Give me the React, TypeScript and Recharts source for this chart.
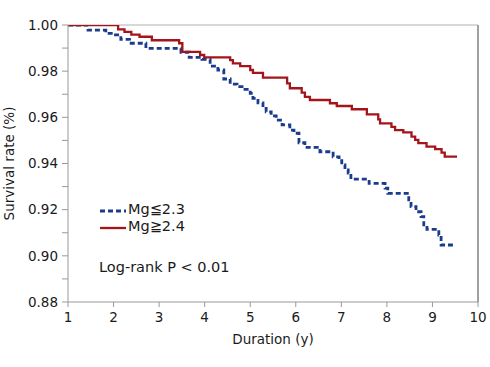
import { Legend, Line, LineChart, ReferenceLine, XAxis, YAxis } from "recharts";

// Kaplan-Meier steps: time (years) and survival after each event
const lowMgTimes = [
  1.0, 1.44, 1.83, 1.99, 2.16, 2.35, 2.71, 3.48, 3.66, 3.94, 4.12, 4.29, 4.42, 4.56, 4.71, 4.82, 5.0,
  5.06, 5.17, 5.28, 5.35, 5.46, 5.57, 5.7, 5.87, 5.96, 6.07, 6.2, 6.53, 6.82, 6.95, 7.01, 7.08, 7.15,
  7.21, 7.61, 7.96, 8.02, 8.48, 8.53, 8.64, 8.75, 8.81, 8.88, 9.14, 9.19, 9.45,
];
const lowMgSurvival = [
  1.0, 0.9978, 0.9964, 0.9957, 0.9938, 0.9921, 0.9899, 0.9882, 0.986, 0.9851, 0.9822, 0.9805, 0.9766,
  0.9744, 0.9733, 0.9721, 0.9704, 0.9682, 0.9663, 0.9639, 0.9624, 0.9606, 0.9588, 0.9567, 0.9545, 0.9531,
  0.949, 0.947, 0.9451, 0.9429, 0.9412, 0.9394, 0.9372, 0.9358, 0.9332, 0.9314, 0.9293, 0.9271, 0.9242,
  0.9213, 0.9191, 0.917, 0.9134, 0.9115, 0.909, 0.9047, 0.9047,
];

const highMgTimes = [
  1.0, 2.1, 2.24, 2.39, 2.57, 2.84, 3.44, 3.51, 3.9, 3.99, 4.56, 4.62, 4.78, 5.0, 5.06, 5.28, 5.81, 5.87,
  6.13, 6.2, 6.31, 6.75, 6.9, 7.23, 7.56, 7.81, 7.85, 8.1, 8.18, 8.36, 8.54, 8.62, 8.69, 8.87, 9.06, 9.2,
  9.27, 9.54,
];
const highMgSurvival = [
  1.0, 0.9981, 0.997, 0.9958, 0.9949, 0.9934, 0.9921, 0.9884, 0.987, 0.986, 0.9848, 0.9834, 0.9822,
  0.9805, 0.9793, 0.9772, 0.9747, 0.9726, 0.9707, 0.9689, 0.9675, 0.9661, 0.9649, 0.9635, 0.9613, 0.9591,
  0.9574, 0.9559, 0.9545, 0.9535, 0.9516, 0.9502, 0.9488, 0.9473, 0.9462, 0.9447, 0.943, 0.943,
];

const xTicks = [1, 2, 3, 4, 5, 6, 7, 8, 9, 10];
const yTicks = [0.88, 0.89, 0.9, 0.91, 0.92, 0.93, 0.94, 0.95, 0.96, 0.97, 0.98, 0.99, 1.0];

const lowMgData = lowMgTimes.map((t, i) => ({ t, s: lowMgSurvival[i] }));
const highMgData = highMgTimes.map((t, i) => ({ t, s: highMgSurvival[i] }));

const FONT = "'DejaVu Sans', Verdana, sans-serif";
const BLUE = "#1b3b8c";
const RED = "#a3141b";
const AXIS = "#999999";

function LegendBox(props: any) {
  const items = props.payload ?? [];
  return (
    <svg width={170} height={80} style={{ display: "block", fontFamily: FONT }}>
      {items.map((item: any, i: number) => {
        const y = 11 + i * 17;
        return (
          <g key={item.value}>
            <line
              x1={2}
              x2={28}
              y1={y + 2}
              y2={y + 2}
              stroke={item.color}
              strokeWidth={item.payload?.strokeDasharray ? 2.8 : 2.3}
              strokeDasharray={item.payload?.strokeDasharray}
            />
            <text x={30} y={y} fontSize={14.5} fill="#1a1a1a" dominantBaseline="central">
              {item.value}
            </text>
          </g>
        );
      })}
      <text x={1} y={69} fontSize={14.5} fill="#1a1a1a" dominantBaseline="central">
        Log-rank P &lt; 0.01
      </text>
    </svg>
  );
}

export default function App() {
  return (
    <div style={{ position: "absolute", left: 0, top: 0, width: 490, height: 367, background: "#fff" }}>
      <LineChart
        width={490}
        height={367}
        margin={{ top: 25, right: 12, left: 0, bottom: 0 }}
        style={{ fontFamily: FONT }}
      >
        <ReferenceLine y={1} stroke="#b0b0b0" strokeWidth={1} />
        <ReferenceLine x={10} stroke="#a0a0a0" strokeWidth={2} />
        <XAxis
          dataKey="t"
          type="number"
          domain={[1, 10]}
          ticks={xTicks}
          allowDataOverflow
          height={65}
          stroke={AXIS}
          tickSize={5}
          tickMargin={5}
          tick={{ fill: "#1a1a1a", fontSize: 13.5 }}
          label={{ value: "Duration (y)", position: "insideBottom", offset: 23, fill: "#1a1a1a", fontSize: 13.5 }}
        />
        <YAxis
          type="number"
          domain={[0.88, 1.0]}
          ticks={yTicks}
          allowDataOverflow
          width={68}
          stroke={AXIS}
          tickSize={6}
          tickMargin={4}
          tick={{ fill: "#1a1a1a", fontSize: 13.5 }}
          tickFormatter={(v: number) => (Math.round(v * 100) % 2 === 0 ? v.toFixed(2) : "")}
          label={({ viewBox }: any) => (
            <text
              x={viewBox.x + 9}
              y={viewBox.y + viewBox.height / 2}
              transform={`rotate(-90, ${viewBox.x + 9}, ${viewBox.y + viewBox.height / 2})`}
              textAnchor="middle"
              dominantBaseline="central"
              fontSize={13.5}
              fill="#1a1a1a"
            >
              Survival rate (%)
            </text>
          )}
        />
        <Legend
          layout="vertical"
          align="center"
          verticalAlign="middle"
          content={LegendBox}
          wrapperStyle={{ position: "absolute", left: 98, top: 198, width: 170, height: 80 }}
        />
        <Line
          data={lowMgData}
          dataKey="s"
          name="Mg≦2.3"
          type="stepAfter"
          stroke={BLUE}
          strokeWidth={2.8}
          strokeDasharray="5 3"
          dot={false}
          isAnimationActive={false}
        />
        <Line
          data={highMgData}
          dataKey="s"
          name="Mg≧2.4"
          type="stepAfter"
          stroke={RED}
          strokeWidth={2.3}
          dot={false}
          isAnimationActive={false}
        />
      </LineChart>
    </div>
  );
}
